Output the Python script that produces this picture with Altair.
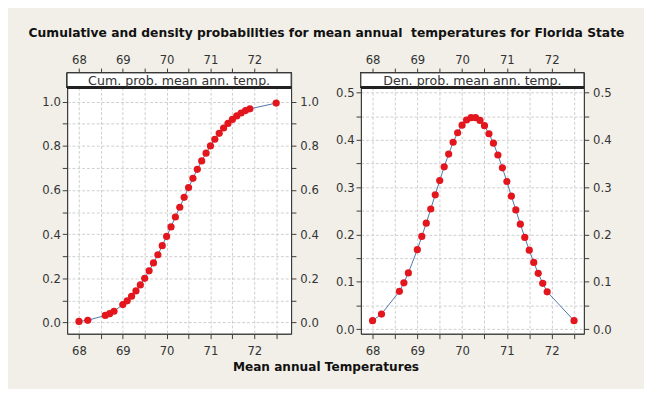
import altair as alt
import pandas as pd

# ---------------- data ----------------
temps = [68.0, 68.2, 68.6, 68.7, 68.8, 69.0, 69.1, 69.2, 69.3, 69.4, 69.5, 69.6,
         69.7, 69.8, 69.9, 70.0, 70.1, 70.2, 70.3, 70.4, 70.5, 70.6, 70.7, 70.8,
         70.9, 71.0, 71.1, 71.2, 71.3, 71.4, 71.5, 71.6, 71.7, 71.8, 71.9, 72.5]
cum_prob = [0.005, 0.010, 0.032, 0.040, 0.051, 0.081, 0.098, 0.119, 0.143, 0.170,
            0.200, 0.234, 0.270, 0.307, 0.348, 0.390, 0.433, 0.478, 0.522, 0.567,
            0.611, 0.653, 0.694, 0.732, 0.767, 0.800, 0.830, 0.857, 0.881, 0.902,
            0.920, 0.936, 0.949, 0.960, 0.968, 0.994]
den_prob = [0.018, 0.032, 0.080, 0.098, 0.119, 0.168, 0.196, 0.224, 0.254, 0.284,
            0.314, 0.343, 0.370, 0.395, 0.415, 0.431, 0.442, 0.447, 0.447, 0.441,
            0.430, 0.413, 0.393, 0.368, 0.341, 0.312, 0.281, 0.252, 0.222, 0.194,
            0.167, 0.141, 0.118, 0.097, 0.079, 0.018]

x_ticks = [68, 68.5, 69, 69.5, 70, 70.5, 71, 71.5, 72, 72.5]
cum_ticks = [0.0, 0.1, 0.2, 0.3, 0.4, 0.5, 0.6, 0.7, 0.8, 0.9, 1.0]
den_ticks = [0.0, 0.05, 0.1, 0.15, 0.2, 0.25, 0.3, 0.35, 0.4, 0.45, 0.5]

title_text = "Cumulative and density probabilities for mean annual\u00a0 temperatures for Florida State"
x_title = "Mean annual Temperatures"
strip_cum = "Cum. prob. mean ann. temp."
strip_den = "Den. prob. mean ann. temp."

df = pd.DataFrame({"temp": temps, "cum": cum_prob, "den": den_prob})

FONT = "DejaVu Sans"
BEIGE = "#f1efe8"
DARK = "#3a3a3a"
STRIP_H = 15
H = 269


def axis_kw():
    return dict(domainColor=DARK, tickColor=DARK, tickSize=5, labelColor="#333",
                labelFont=FONT, labelFontSize=12, title=None,
                labelOverlap=False, labelFlush=False)


def panel(ycol, xdom, ydom, yticks, major_mult, strip_text, width, caption=False):
    xs = alt.Scale(domain=xdom, nice=False, zero=False)
    ys = alt.Scale(domain=ydom, nice=False, zero=False)
    xlab = "datum.value % 1 == 0 ? format(datum.value, 'd') : ''"
    ylab = ("abs(datum.value*%d - round(datum.value*%d)) < 1e-6 ? format(datum.value, '.1f') : ''"
            % (major_mult, major_mult))

    x_bottom = alt.X("temp:Q", scale=xs,
                     axis=alt.Axis(orient="bottom", values=x_ticks, labelExpr=xlab,
                                   grid=True, gridDash=[3, 2], gridColor="#cdcdcd",
                                   labelPadding=7, **axis_kw()))
    y_left = alt.Y(f"{ycol}:Q", scale=ys,
                   axis=alt.Axis(orient="left", values=yticks, labelExpr=ylab,
                                 grid=True, gridDash=[3, 2], gridColor="#cdcdcd",
                                 labelPadding=2, **axis_kw()))
    x_top = alt.X("temp:Q", scale=xs,
                  axis=alt.Axis(orient="top", values=x_ticks, labelExpr=xlab,
                                grid=False, labelPadding=2, **axis_kw()))
    y_right = alt.Y(f"{ycol}:Q", scale=ys,
                    axis=alt.Axis(orient="right", values=yticks, labelExpr=ylab,
                                  grid=False, labelPadding=4, **axis_kw()))

    line = alt.Chart(df).mark_line(color="#4a74a8", strokeWidth=1).encode(x=x_bottom, y=y_left)
    ghost = alt.Chart(df).mark_point(opacity=0).encode(x=x_top, y=y_right)
    pts = alt.Chart(df).mark_circle(color="#e3151d", size=55, opacity=1).encode(
        x=alt.X("temp:Q", axis=None), y=alt.Y(f"{ycol}:Q", axis=None))

    strip = alt.Chart(df).mark_rect(fill="white", stroke=DARK, strokeWidth=1).encode(
        x=alt.value(0), x2=alt.value(width), y=alt.value(0), y2=alt.value(STRIP_H))
    strip_line = alt.Chart(df).mark_rule(color="#222", strokeWidth=1.6).encode(
        x=alt.value(0), x2=alt.value(width), y=alt.value(STRIP_H))
    strip_lbl = alt.Chart(pd.DataFrame({"t": [strip_text]})).mark_text(
        font=FONT, fontSize=13, color="#333", baseline="middle", align="center").encode(
        text="t:N", x=alt.value(width / 2), y=alt.value(STRIP_H / 2 + 0.5))

    layers = [line, ghost, pts, strip, strip_line, strip_lbl]
    if caption:
        cap = alt.Chart(pd.DataFrame({"t": [x_title]})).mark_text(
            font=FONT, fontSize=12.5, fontWeight="bold", color="#111",
            baseline="middle", align="center").encode(
            text="t:N", x=alt.value(267), y=alt.value(303))
        layers.append(cap)

    return alt.layer(*layers).resolve_axis(x="independent", y="independent").properties(
        width=width, height=H)


left = panel("cum", [67.73, 72.84], [-0.051, 1.1305], cum_ticks, 5, strip_cum, 231, caption=True)
right = panel("den", [67.74, 72.72], [-0.0096, 0.5414], den_ticks, 10, strip_den, 230)

chart = alt.hconcat(left, right, spacing=72, bounds="flush").properties(
    title=alt.TitleParams(title_text, font=FONT, fontSize=12.7, fontWeight="bold",
                          color="#111", anchor="middle", offset=14)
).configure(
    background=BEIGE,
    padding={"left": 21, "top": 13, "right": 20, "bottom": 10},
).configure_view(stroke=DARK, fill="white")

chart.save("out.html", embed_options={"renderer": "svg", "actions": False})
